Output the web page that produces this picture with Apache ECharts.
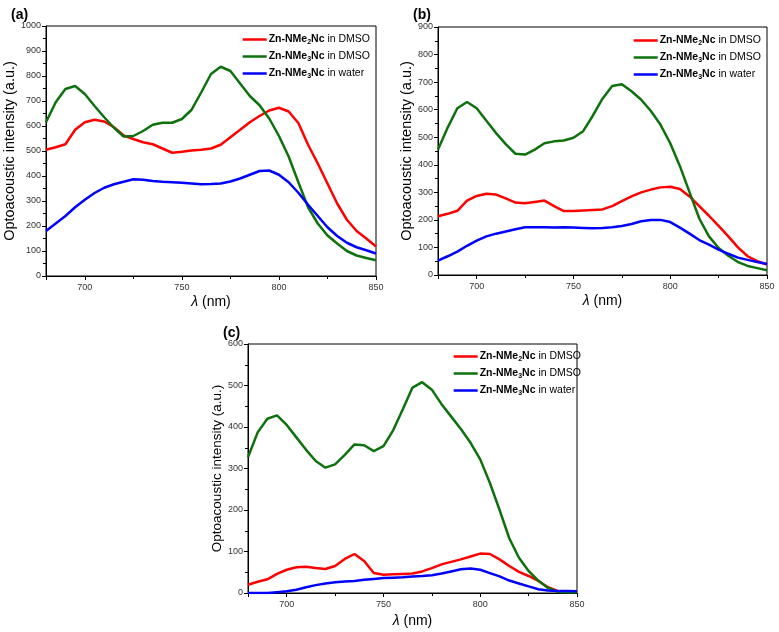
<!DOCTYPE html>
<html>
<head>
<meta charset="utf-8">
<script src="https://cdn.jsdelivr.net/npm/echarts@6/dist/echarts.min.js"></script>
<style>
  html, body { margin: 0; padding: 0; background: #fff; }
  #chart { width: 779px; height: 632px; }
</style>
</head>
<body>
<div id="chart"></div>
<script>
// wavelength (nm), 5 nm steps
var wavelengths = [680, 685, 690, 695, 700, 705, 710, 715, 720, 725, 730, 735, 740, 745, 750, 755, 760,
  765, 770, 775, 780, 785, 790, 795, 800, 805, 810, 815, 820, 825, 830, 835, 840, 845, 850];

// panel (a)
var aRed = [505, 515, 527, 585, 615, 625, 618, 595, 562, 548, 535, 527, 510, 493, 497, 502, 505,
  510, 525, 555, 585, 615, 640, 662, 673, 658, 612, 525, 450, 370, 290, 225, 180, 150, 118];
var aGreen = [615, 695, 748, 760, 728, 680, 635, 593, 558, 560, 580, 605, 613, 613, 628, 665, 735,
  808, 837, 820, 770, 720, 683, 630, 560, 478, 375, 275, 210, 162, 130, 100, 82, 72, 63];
var aBlue = [180, 210, 240, 275, 305, 332, 353, 367, 377, 387, 385, 380, 377, 375, 373, 370, 367,
  368, 370, 378, 390, 405, 420, 422, 405, 375, 333, 285, 240, 195, 160, 133, 115, 103, 90];

// panel (b)
var bRed = [213, 222, 233, 270, 287, 295, 292, 278, 263, 260, 265, 270, 250, 232, 232, 234, 236,
  238, 250, 268, 285, 300, 310, 318, 320, 312, 285, 250, 215, 178, 140, 100, 68, 50, 38];
var bGreen = [455, 535, 605, 628, 605, 560, 515, 475, 440, 437, 455, 478, 485, 488, 498, 522, 578,
  640, 686, 692, 667, 636, 595, 545, 478, 395, 300, 205, 140, 98, 70, 47, 33, 25, 17];
var bBlue = [52, 68, 85, 106, 125, 140, 150, 158, 166, 173, 173, 173, 172, 173, 172, 171, 170,
  171, 173, 178, 185, 195, 200, 200, 192, 172, 150, 127, 110, 92, 77, 63, 55, 47, 40];

// panel (c)
var cRed = [20, 27, 33, 46, 56, 62, 63, 60, 58, 65, 82, 94, 77, 48, 44, 45, 46,
  47, 52, 60, 69, 75, 81, 88, 95, 94, 81, 65, 51, 41, 29, 14, 5, 4, 4];
var cGreen = [327, 387, 420, 428, 405, 375, 345, 318, 302, 310, 333, 358, 356, 342, 354, 392, 443,
  495, 508, 490, 455, 425, 395, 362, 322, 265, 200, 132, 85, 53, 30, 12, 3, 2, 2];
var cBlue = [0, 0, 0, 2, 4, 8, 14, 19, 23, 26, 28, 29, 32, 34, 36, 37, 38,
  40, 41, 43, 47, 52, 57, 59, 56, 48, 40, 30, 23, 16, 9, 6, 5, 5, 4];

var panelTags = ['(a)', '(b)', '(c)'];
var yMax = [1000, 900, 600];
var legendText = {
  r: '{b|Zn-NMe}{s|2}{b|Nc}{n| in DMSO}',
  g: '{b|Zn-NMe}{s|3}{b|Nc}{n| in DMSO}',
  w: '{b|Zn-NMe}{s|3}{b|Nc}{n| in water}'
};
var colors = { r: '#ff0000', g: '#0d720d', w: '#0000ff' };

var chartDom = document.getElementById('chart');
var myChart = echarts.init(chartDom);

var grids = [
  { left: 46, right: 403, top: 26, bottom: 356 },
  { left: 438, right: 12, top: 27, bottom: 357 },
  { left: 248, right: 202, top: 344, bottom: 39 }
];
var yNameSize = [14.5, 14.5, 13.5];
var yNameGap = [26, 22, 24];
var xNameGap = [19, 19, 21];
var legendPos = [
  { right: 404, top: 29 },
  { right: 13, top: 30 },
  { right: 193, top: 346 }
];

var font = 'Liberation Sans, Arial, sans-serif';

var xAxes = [], yAxes = [], series = [], legends = [];
var sets = [[aRed, aGreen, aBlue], [bRed, bGreen, bBlue], [cRed, cGreen, cBlue]];
var keys = ['r', 'g', 'w'];

grids.forEach(function (g) {
  g.show = true;
  g.borderColor = '#000';
  g.borderWidth = 1;
});

for (var i = 0; i < 3; i++) {
  xAxes.push({
    type: 'value', gridIndex: i, min: 680, max: 850, splitNumber: 4,
    name: '{i|λ} (nm)', nameLocation: 'middle', nameGap: xNameGap[i],
    nameTextStyle: {
      fontFamily: font, fontSize: 14, color: '#000',
      rich: { i: { fontFamily: font, fontSize: 14, fontStyle: 'italic', color: '#000' } }
    },
    axisLine: { lineStyle: { color: '#000', width: 1 } },
    axisTick: { inside: false, length: 4, lineStyle: { color: '#000' } },
    minorTick: { show: true, splitNumber: 2, length: 3, lineStyle: { color: '#000' } },
    axisLabel: { showMinLabel: false, fontFamily: font, fontSize: 9, color: '#333', margin: 7 },
    splitLine: { show: false }
  });
  yAxes.push({
    type: 'value', gridIndex: i, min: 0, max: yMax[i], interval: 100,
    name: 'Optoacoustic intensity (a.u.)', nameLocation: 'middle', nameGap: yNameGap[i],
    nameTextStyle: { fontFamily: font, fontSize: yNameSize[i], color: '#000' },
    axisLine: { show: true, lineStyle: { color: '#000', width: 1 } },
    axisTick: { show: true, inside: false, length: 4, lineStyle: { color: '#000' } },
    minorTick: { show: true, splitNumber: 2, length: 3, lineStyle: { color: '#000' } },
    axisLabel: {
      fontFamily: font, fontSize: 9, color: '#333', margin: 5,
      formatter: function (v) { return String(v); }
    },
    splitLine: { show: false }
  });
  var names = [];
  for (var k = 0; k < 3; k++) {
    var nm = panelTags[i] + keys[k];
    names.push(nm);
    series.push({
      name: nm, type: 'line', xAxisIndex: i, yAxisIndex: i,
      symbol: 'none', smooth: false,
      lineStyle: { color: colors[keys[k]], width: 2.5 },
      itemStyle: { color: colors[keys[k]] },
      data: wavelengths.map(function (w, j) { return [w, sets[i][k][j]]; })
    });
  }
  legends.push({
    orient: 'vertical', right: legendPos[i].right, top: legendPos[i].top,
    data: names, itemWidth: 24, itemHeight: 2.5, itemGap: 5, align: 'left',
    icon: 'rect', selectedMode: false,
    formatter: function (name) { return legendText[name.slice(-1)]; },
    textStyle: {
      fontFamily: font, fontSize: 10.5, color: '#000', padding: [0, 0, 0, -3],
      rich: {
        b: { fontFamily: font, fontSize: 10.5, fontWeight: 'bold', color: '#000' },
        s: { fontFamily: font, fontSize: 7, fontWeight: 'bold', color: '#000', padding: [6, 0, 0, 0] },
        n: { fontFamily: font, fontSize: 10.5, color: '#000' }
      }
    }
  });
}

var option = {
  backgroundColor: '#fff',
  animation: false,
  title: [
    { text: '(a)', left: 6, top: 3 },
    { text: '(b)', left: 408, top: 3 },
    { text: '(c)', left: 218, top: 321 }
  ].map(function (t) {
    t.textStyle = { fontFamily: font, fontSize: 14, fontWeight: 'bold', color: '#000' };
    return t;
  }),
  grid: grids,
  xAxis: xAxes,
  yAxis: yAxes,
  legend: legends,
  series: series
};

option && myChart.setOption(option);
</script>
</body>
</html>
